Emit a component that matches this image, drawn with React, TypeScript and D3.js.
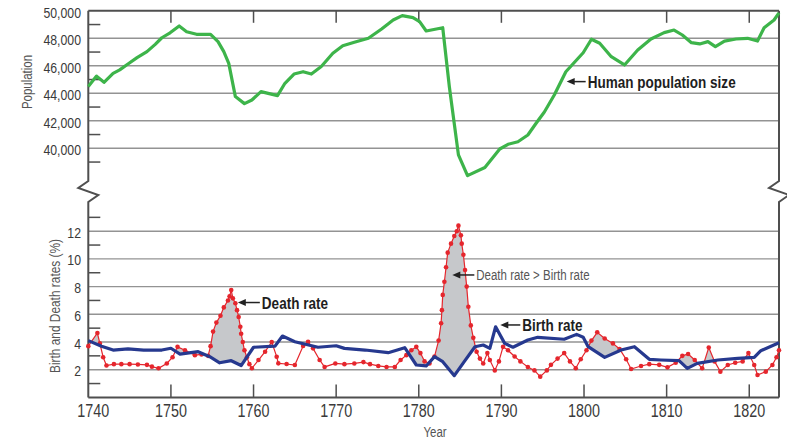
import { useRef, useEffect } from "react";
import * as d3 from "d3";

// Population (top panel)
const popYears = [1740.0, 1741.0, 1741.9, 1743.0, 1743.8, 1744.8, 1745.9, 1747.1, 1748.1, 1748.9, 1749.9, 1751.0, 1751.9, 1753.1, 1754.8, 1755.7, 1756.4, 1757.0, 1757.8, 1758.9, 1759.8, 1760.9, 1762.9, 1763.8, 1764.9, 1766.0, 1767.0, 1768.2, 1769.6, 1770.8, 1772.2, 1773.9, 1775.5, 1776.9, 1778.0, 1779.3, 1780.1, 1780.9, 1782.9, 1783.7, 1784.8, 1785.9, 1788.0, 1789.8, 1790.8, 1792.0, 1793.2, 1794.2, 1795.2, 1796.4, 1797.8, 1799.9, 1800.9, 1801.9, 1803.3, 1804.9, 1806.5, 1808.1, 1809.7, 1810.9, 1811.9, 1813.0, 1814.0, 1815.0, 1815.9, 1817.0, 1818.4, 1819.8, 1821.0, 1821.8, 1823.0, 1823.6];
const popValues = [44500, 45250, 44800, 45450, 45700, 46130, 46590, 47030, 47560, 48040, 48400, 48900, 48480, 48290, 48290, 47760, 47030, 46180, 43760, 43250, 43510, 44120, 43830, 44730, 45400, 45570, 45400, 45950, 46910, 47460, 47710, 48000, 48680, 49330, 49650, 49500, 49210, 48530, 48770, 44480, 39520, 38010, 38600, 39950, 40290, 40480, 40970, 41820, 42640, 43880, 45570, 46950, 47930, 47640, 46660, 46060, 47150, 47950, 48410, 48600, 48240, 47680, 47590, 47760, 47390, 47800, 47950, 48000, 47800, 48770, 49330, 49850];

// Birth rate (%)
const birthYears = [1740.0, 1741.6, 1743.0, 1744.8, 1746.7, 1748.9, 1750.0, 1751.1, 1753.3, 1754.7, 1755.9, 1757.3, 1758.5, 1760.0, 1762.6, 1763.5, 1765.0, 1767.8, 1770.0, 1771.0, 1773.5, 1776.3, 1778.3, 1779.7, 1780.9, 1781.9, 1782.9, 1784.3, 1785.5, 1786.8, 1787.8, 1788.6, 1789.3, 1790.4, 1791.4, 1793.2, 1794.4, 1797.6, 1799.1, 1799.9, 1800.5, 1802.5, 1804.5, 1806.1, 1807.9, 1809.3, 1811.5, 1812.5, 1813.7, 1816.2, 1818.6, 1820.6, 1821.4, 1823.6];
const birthValues = [4.1, 3.7, 3.42, 3.5, 3.42, 3.42, 3.55, 3.13, 3.3, 2.94, 2.5, 2.65, 2.3, 3.62, 3.7, 4.43, 4.02, 3.62, 3.73, 3.54, 3.42, 3.23, 3.59, 2.34, 2.27, 2.94, 2.58, 1.57, 2.58, 3.66, 3.78, 3.54, 5.1, 3.9, 3.62, 4.14, 4.34, 4.2, 4.55, 4.34, 3.66, 2.89, 3.42, 3.66, 2.75, 2.7, 2.65, 2.1, 2.46, 2.7, 2.82, 2.89, 3.37, 3.95];

// Death rate (%)
const deathYears = [1740.0, 1741.1, 1741.4, 1741.8, 1742.2, 1743.1, 1744.0, 1745.0, 1746.0, 1747.1, 1747.7, 1748.5, 1749.5, 1750.2, 1750.8, 1751.7, 1752.9, 1753.7, 1754.5, 1754.8, 1755.1, 1755.5, 1756.0, 1756.4, 1756.9, 1757.1, 1757.3, 1757.5, 1757.8, 1758.0, 1758.2, 1758.4, 1758.5, 1758.7, 1758.9, 1759.2, 1759.5, 1759.8, 1760.6, 1761.4, 1762.2, 1762.8, 1763.0, 1764.0, 1765.0, 1766.0, 1766.6, 1767.2, 1768.0, 1768.6, 1769.9, 1771.0, 1772.2, 1773.3, 1774.1, 1775.1, 1776.1, 1777.1, 1777.8, 1778.5, 1779.1, 1779.7, 1780.2, 1780.7, 1781.3, 1781.9, 1782.4, 1782.7, 1782.8, 1782.9, 1783.1, 1783.3, 1783.5, 1783.9, 1784.3, 1784.6, 1784.8, 1785.1, 1785.2, 1785.4, 1785.6, 1785.8, 1786.0, 1786.3, 1786.6, 1787.0, 1787.4, 1787.8, 1788.3, 1788.6, 1789.2, 1789.7, 1790.2, 1790.8, 1791.6, 1792.3, 1793.2, 1794.0, 1794.7, 1795.5, 1796.0, 1796.8, 1797.6, 1798.3, 1799.0, 1799.6, 1800.3, 1800.9, 1801.6, 1802.5, 1803.5, 1804.3, 1805.1, 1805.7, 1806.9, 1807.9, 1809.1, 1810.1, 1811.1, 1811.9, 1812.6, 1813.4, 1814.3, 1815.1, 1815.8, 1816.5, 1817.4, 1818.3, 1819.2, 1819.9, 1820.6, 1821.0, 1822.0, 1822.8, 1823.3, 1823.6];
const deathValues = [3.7, 4.65, 3.9, 2.9, 2.3, 2.4, 2.4, 2.4, 2.38, 2.35, 2.22, 2.1, 2.45, 2.9, 3.65, 3.4, 3.05, 3.1, 3.0, 3.7, 4.75, 5.4, 5.9, 6.5, 7.0, 7.3, 7.75, 7.15, 6.8, 6.3, 5.8, 5.1, 4.6, 4.0, 3.4, 2.9, 2.4, 2.1, 2.7, 3.3, 4.0, 2.94, 2.46, 2.41, 2.34, 3.71, 4.02, 3.54, 2.7, 2.2, 2.45, 2.4, 2.45, 2.55, 2.4, 2.27, 2.2, 2.2, 2.7, 3.05, 3.4, 3.65, 3.2, 2.6, 2.45, 2.95, 4.1, 5.35, 6.3, 7.4, 8.35, 9.4, 10.45, 11.1, 11.65, 12.0, 12.4, 11.7, 11.1, 10.3, 9.2, 8.0, 6.55, 5.2, 4.3, 3.3, 2.8, 2.45, 3.2, 2.7, 1.95, 2.6, 3.65, 3.4, 2.95, 2.6, 2.2, 1.95, 1.5, 1.95, 2.35, 2.8, 3.2, 2.6, 2.1, 2.75, 3.4, 4.1, 4.7, 4.25, 3.9, 3.5, 2.75, 2.05, 2.27, 2.4, 2.35, 2.17, 2.5, 3.0, 3.13, 2.7, 2.1, 3.6, 2.6, 1.86, 2.34, 2.5, 2.6, 3.2, 2.34, 1.62, 1.86, 2.34, 2.9, 3.4];

// Ticks
const yearTicks = [1740, 1750, 1760, 1770, 1780, 1790, 1800, 1810, 1820];
const popTicks = [40000, 42000, 44000, 46000, 48000, 50000];
const popMinor = [39000, 41000, 43000, 45000, 47000, 49000];
const rateTicks = [2, 4, 6, 8, 10, 12];
const rateMinor = [1, 3, 5, 7, 9, 11, 13];

const FONT = "'Liberation Sans', Arial, sans-serif";
// no narrow face installed: squeeze the regular one horizontally
const NARROW = 0.82;
const at = (x: number, y: number, rot = 0) =>
  `translate(${x},${y})${rot ? ` rotate(${rot})` : ""} scale(${NARROW},1)`;

export default function App() {
  const svgRef = useRef<SVGSVGElement>(null);

  useEffect(() => {
    const width = 787;
    const height = 439;
    const left = 88.3;
    const right = 779;

    const svg = d3.select(svgRef.current)
      .attr("width", width)
      .attr("height", height)
      .style("position", "absolute")
      .style("left", 0)
      .style("top", 0)
      .style("background", "#fff");
    svg.selectAll("*").remove();

    const x = d3.scaleLinear().domain([1740, 1823.6]).range([left, right]);
    const yPop = d3.scaleLinear().domain([38000, 50000]).range([175.8, 10.8]);
    const yRate = d3.scaleLinear().domain([0, 14]).range([397.4, 203.5]);

    const axisColor = "#4f4f4f";
    const gridColor = "#939393";
    const textColor = "#3a3a3a";

    // gridlines
    svg.append("g").selectAll("line").data(popTicks.slice(0, -1)).join("line")
      .attr("x1", left).attr("x2", right)
      .attr("y1", d => yPop(d)).attr("y2", d => yPop(d))
      .attr("stroke", gridColor).attr("stroke-width", 1.4);
    svg.append("g").selectAll("line").data(rateTicks).join("line")
      .attr("x1", left).attr("x2", right)
      .attr("y1", d => yRate(d)).attr("y2", d => yRate(d))
      .attr("stroke", gridColor).attr("stroke-width", 1.4);

    // minor ticks
    svg.append("g").selectAll("line").data(popMinor).join("line")
      .attr("x1", left).attr("x2", left + 12)
      .attr("y1", d => yPop(d)).attr("y2", d => yPop(d))
      .attr("stroke", axisColor).attr("stroke-width", 1.5);
    svg.append("g").selectAll("line").data(rateMinor).join("line")
      .attr("x1", left).attr("x2", left + 12)
      .attr("y1", d => yRate(d)).attr("y2", d => yRate(d))
      .attr("stroke", axisColor).attr("stroke-width", 1.5);

    // year ticks top and bottom
    const inner = yearTicks.slice(1);
    svg.append("g").selectAll("line").data(inner).join("line")
      .attr("x1", d => x(d)).attr("x2", d => x(d))
      .attr("y1", yPop(50000)).attr("y2", yPop(50000) + 12)
      .attr("stroke", axisColor).attr("stroke-width", 1.5);
    svg.append("g").selectAll("line").data(inner).join("line")
      .attr("x1", d => x(d)).attr("x2", d => x(d))
      .attr("y1", yRate(0)).attr("y2", yRate(0) - 13)
      .attr("stroke", axisColor).attr("stroke-width", 1.5);

    // frame with breaks
    const top = yPop(50000);
    const bottom = yRate(0);
    const frame = svg.append("g").attr("fill", "none")
      .attr("stroke", axisColor).attr("stroke-width", 2);
    frame.append("path").attr("d", `M${left},${top}H${right}`);
    frame.append("path").attr("d", `M${left},${bottom}H${right}`);
    [left, right].forEach(ax => {
      frame.append("path")
        .attr("d", `M${ax},${top}V181L${ax - 10},188L${ax + 10},195L${ax},202V${bottom}`);
    });

    // gray fill where death rate > birth rate
    const birth = birthYears.map((yr, i) => ({ yr, v: birthValues[i] }));
    const death = deathYears.map((yr, i) => ({ yr, v: deathValues[i] }));
    svg.append("clipPath").attr("id", "above-birth")
      .append("path")
      .attr("d", d3.area<{ yr: number; v: number }>()
        .x(d => x(d.yr)).y0(0).y1(d => yRate(d.v))(birth));
    svg.append("path")
      .attr("d", d3.area<{ yr: number; v: number }>()
        .x(d => x(d.yr)).y0(d => yRate(d.v)).y1(bottom)(death))
      .attr("clip-path", "url(#above-birth)")
      .attr("fill", "#c6c8cb");

    // death rate line + dots
    const rateLine = d3.line<{ yr: number; v: number }>()
      .x(d => x(d.yr)).y(d => yRate(d.v));
    svg.append("path").attr("d", rateLine(death))
      .attr("fill", "none").attr("stroke", "#e5262d").attr("stroke-width", 1.2);
    svg.append("g").selectAll("circle").data(death).join("circle")
      .attr("cx", d => x(d.yr)).attr("cy", d => yRate(d.v)).attr("r", 2.3)
      .attr("fill", "#e5262d");

    // birth rate line
    svg.append("path").attr("d", rateLine(birth))
      .attr("fill", "none").attr("stroke", "#26398f").attr("stroke-width", 3.2)
      .attr("stroke-linejoin", "round");

    // population line
    const pop = popYears.map((yr, i) => ({ yr, v: popValues[i] }));
    svg.append("path")
      .attr("d", d3.line<{ yr: number; v: number }>().x(d => x(d.yr)).y(d => yPop(d.v))(pop))
      .attr("fill", "none").attr("stroke", "#3db44a").attr("stroke-width", 3.2)
      .attr("stroke-linejoin", "round");

    // tick labels
    const labels = svg.append("g").attr("font-family", FONT).attr("fill", textColor);
    labels.selectAll(".pt").data(popTicks).join("text")
      .attr("transform", d => at(81, yPop(d) + 7))
      .attr("text-anchor", "end").attr("font-size", 15)
      .text(d => d3.format(",")(d));
    labels.selectAll(".rt").data(rateTicks).join("text")
      .attr("transform", d => at(81, yRate(d) + 6.5))
      .attr("text-anchor", "end").attr("font-size", 15)
      .text(d => d);
    labels.selectAll(".yt").data(yearTicks).join("text")
      .attr("transform", d => at(x(d) + (d === 1740 ? 5 : 0), 417))
      .attr("text-anchor", "middle").attr("font-size", 17.5)
      .text(d => d);

    // axis titles
    const titles = svg.append("g").attr("font-family", FONT).attr("fill", "#555")
      .attr("font-size", 14).attr("text-anchor", "middle");
    titles.append("text").attr("transform", at(435, 437)).text("Year");
    titles.append("text").attr("transform", at(32, 82, -90)).text("Population");
    titles.append("text").attr("transform", at(60, 306, -90)).attr("font-size", 14.5)
      .text("Birth and Death rates (%)");

    // annotations
    const notes = [
      { tx: x(1797.9), ty: yPop(44850), gap: 21, text: "Human population size", bold: true },
      { tx: x(1758.1), ty: yRate(6.85), gap: 24, text: "Death rate", bold: true },
      { tx: x(1784.06), ty: yRate(8.84), gap: 24, text: "Death rate > Birth rate", bold: false },
      { tx: x(1789.87), ty: yRate(5.23), gap: 22, text: "Birth rate", bold: true },
    ];
    const ann = svg.append("g").attr("font-family", FONT);
    notes.forEach(n => {
      ann.append("path")
        .attr("d", `M${n.tx},${n.ty}l8,-3.5v7z`)
        .attr("fill", "#222");
      ann.append("line")
        .attr("x1", n.tx + 7).attr("x2", n.tx + n.gap - 2)
        .attr("y1", n.ty).attr("y2", n.ty)
        .attr("stroke", "#222").attr("stroke-width", 1.5);
      ann.append("text")
        .attr("transform", at(n.tx + n.gap, n.ty + (n.bold ? 6 : 5)))
        .attr("font-size", n.bold ? 16.5 : 14)
        .attr("font-weight", n.bold ? "bold" : "normal")
        .attr("fill", n.bold ? "#1e1e1e" : "#555")
        .text(n.text);
    });
  }, []);

  return <svg ref={svgRef}></svg>;
}
